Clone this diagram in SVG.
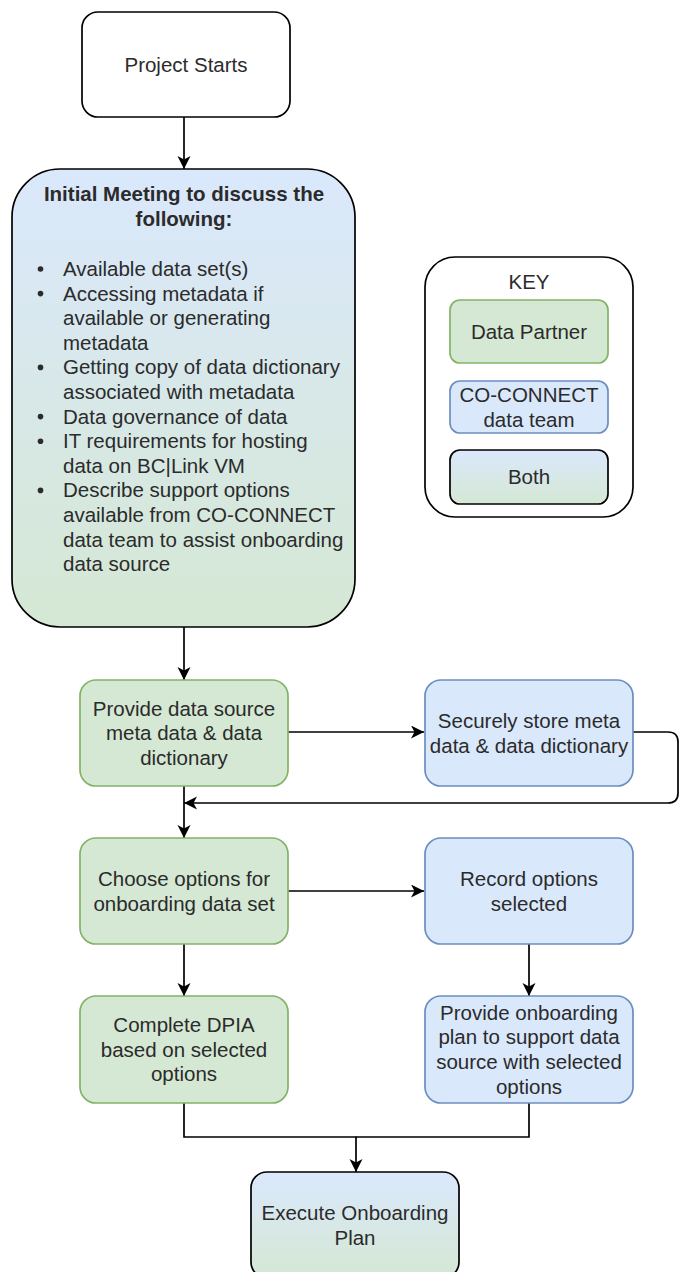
<svg xmlns="http://www.w3.org/2000/svg" width="679" height="1272" viewBox="0 0 679 1272">
  <defs>
    <linearGradient id="bothFill" x1="0" y1="0" x2="0" y2="1">
      <stop offset="0" stop-color="#dae8fc"/>
      <stop offset="1" stop-color="#d5e8d4"/>
    </linearGradient>
    <marker id="arrow" markerUnits="userSpaceOnUse" markerWidth="15" markerHeight="15" refX="13" refY="6.5" orient="auto">
      <path d="M0,0 L13,6.5 L0,13 L3.5,6.5 Z" fill="#000"/>
    </marker>
    <style>
      text { font-family: "Liberation Sans", Arial, Helvetica, sans-serif; font-size: 20.5px; fill: #2b2b2b; }
      .c { text-anchor: middle; }
      .b { font-weight: bold; }
      .plain { fill: #ffffff; stroke: #000; stroke-width: 1.7; }
      .both { fill: url(#bothFill); stroke: #000; stroke-width: 1.7; }
      .partner { fill: #d5e8d4; stroke: #82b366; stroke-width: 1.7; }
      .team { fill: #dae8fc; stroke: #6c8ebf; stroke-width: 1.7; }
      .edge { fill: none; stroke: #000; stroke-width: 1.7; }
    </style>
  </defs>

  <rect width="679" height="1272" fill="#ffffff"/>

  <!-- connectors -->
  <g id="connectors">
    <path class="edge" d="M184 117 V169" marker-end="url(#arrow)"/>
    <path class="edge" d="M184 627 V680" marker-end="url(#arrow)"/>
    <path class="edge" d="M288 732 H424" marker-end="url(#arrow)"/>
    <path class="edge" d="M633 732 H668 Q678 732 678 742 V793 Q678 803 668 803 H184" marker-end="url(#arrow)"/>
    <path class="edge" d="M184 786 V838" marker-end="url(#arrow)"/>
    <path class="edge" d="M288 891 H424" marker-end="url(#arrow)"/>
    <path class="edge" d="M184 944 V996" marker-end="url(#arrow)"/>
    <path class="edge" d="M529 944 V996" marker-end="url(#arrow)"/>
    <path class="edge" d="M529 1103 V1137 H356"/>
    <path class="edge" d="M184 1103 V1137 H356 V1172" marker-end="url(#arrow)"/>
  </g>

  <!-- start -->
  <g id="project-starts">
    <rect class="plain" x="82" y="12" width="208" height="105" rx="16" ry="16"/>
    <text class="c" x="186" y="72">Project Starts</text>
  </g>

  <!-- initial meeting -->
  <g id="initial-meeting">
    <rect class="both" x="12" y="169" width="343" height="458" rx="48" ry="48"/>
    <text class="c b" x="184" y="201">Initial Meeting to discuss the</text>
    <text class="c b" x="184" y="225.6">following:</text>
    <g fill="#2b2b2b">
      <circle cx="40.5" cy="269" r="2.8"/>
      <circle cx="40.5" cy="293.6" r="2.8"/>
      <circle cx="40.5" cy="367.4" r="2.8"/>
      <circle cx="40.5" cy="416.6" r="2.8"/>
      <circle cx="40.5" cy="441.2" r="2.8"/>
      <circle cx="40.5" cy="490.4" r="2.8"/>
    </g>
    <text x="63" y="276">Available data set(s)</text>
    <text x="63" y="300.6">Accessing metadata if</text>
    <text x="63" y="325.2">available or generating</text>
    <text x="63" y="349.8">metadata</text>
    <text x="63" y="374.4">Getting copy of data dictionary</text>
    <text x="63" y="399">associated with metadata</text>
    <text x="63" y="423.6">Data governance of data</text>
    <text x="63" y="448.2">IT requirements for hosting</text>
    <text x="63" y="472.8">data on BC|Link VM</text>
    <text x="63" y="497.4">Describe support options</text>
    <text x="63" y="522">available from CO-CONNECT</text>
    <text x="63" y="546.6">data team to assist onboarding</text>
    <text x="63" y="571.2">data source</text>
  </g>

  <!-- legend -->
  <g id="key">
    <rect class="plain" x="425" y="257" width="208" height="260" rx="30" ry="30"/>
    <text class="c" x="529" y="289">KEY</text>
  </g>
  <g id="key-data-partner">
    <rect class="partner" x="450" y="300" width="158" height="63" rx="10" ry="10"/>
    <text class="c" x="529" y="339">Data Partner</text>
  </g>
  <g id="key-data-team">
    <rect class="team" x="450" y="381" width="158" height="52" rx="10" ry="10"/>
    <text class="c" x="529" y="402">CO-CONNECT</text>
    <text class="c" x="529" y="426.6">data team</text>
  </g>
  <g id="key-both">
    <rect class="both" x="450" y="450" width="158" height="54" rx="10" ry="10"/>
    <text class="c" x="529" y="484">Both</text>
  </g>

  <!-- process steps -->
  <g id="provide-metadata">
    <rect class="partner" x="80" y="680" width="208" height="106" rx="16" ry="16"/>
    <text class="c" x="184" y="715.5">Provide data source</text>
    <text class="c" x="184" y="740.1">meta data &amp; data</text>
    <text class="c" x="184" y="764.7">dictionary</text>
  </g>
  <g id="store-metadata">
    <rect class="team" x="425" y="680" width="208" height="106" rx="16" ry="16"/>
    <text class="c" x="529" y="728">Securely store meta</text>
    <text class="c" x="529" y="752.6">data &amp; data dictionary</text>
  </g>
  <g id="choose-options">
    <rect class="partner" x="80" y="838" width="208" height="106" rx="16" ry="16"/>
    <text class="c" x="184" y="886">Choose options for</text>
    <text class="c" x="184" y="910.6">onboarding data set</text>
  </g>
  <g id="record-options">
    <rect class="team" x="425" y="838" width="208" height="106" rx="16" ry="16"/>
    <text class="c" x="529" y="886">Record options</text>
    <text class="c" x="529" y="910.6">selected</text>
  </g>
  <g id="complete-dpia">
    <rect class="partner" x="80" y="996" width="208" height="107" rx="16" ry="16"/>
    <text class="c" x="184" y="1032">Complete DPIA</text>
    <text class="c" x="184" y="1056.6">based on selected</text>
    <text class="c" x="184" y="1081.2">options</text>
  </g>
  <g id="onboarding-plan">
    <rect class="team" x="425" y="996" width="208" height="107" rx="16" ry="16"/>
    <text class="c" x="529" y="1019.7">Provide onboarding</text>
    <text class="c" x="529" y="1044.3">plan to support data</text>
    <text class="c" x="529" y="1068.9">source with selected</text>
    <text class="c" x="529" y="1093.5">options</text>
  </g>
  <g id="execute-plan">
    <rect class="both" x="251" y="1172" width="208" height="106" rx="16" ry="16"/>
    <text class="c" x="355" y="1220">Execute Onboarding</text>
    <text class="c" x="355" y="1244.6">Plan</text>
  </g>
</svg>
